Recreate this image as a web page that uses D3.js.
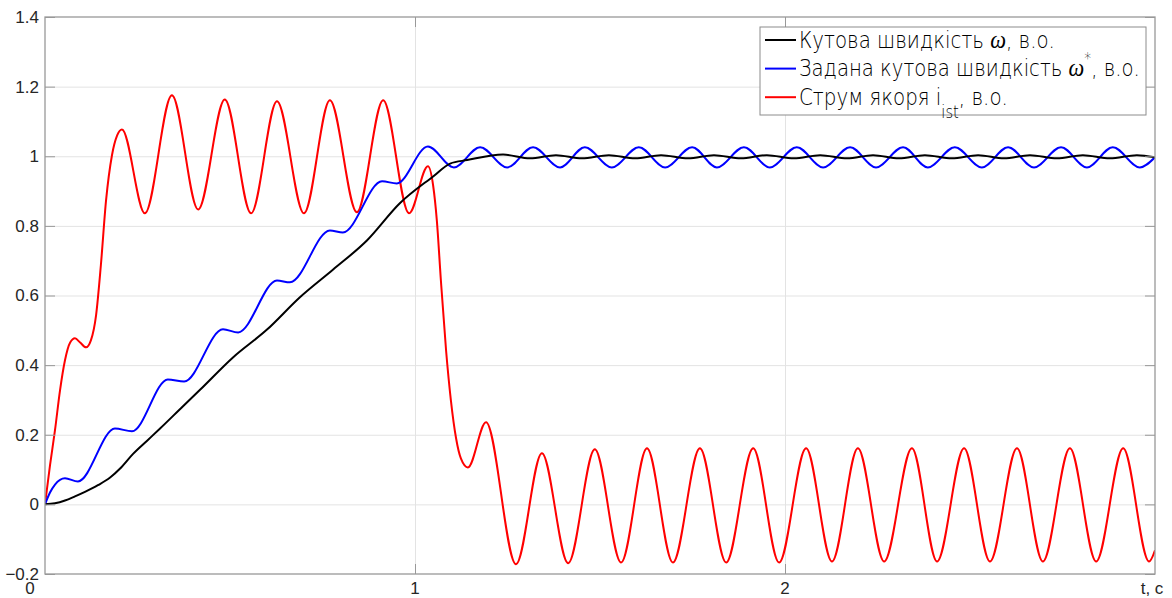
<!DOCTYPE html>
<html>
<head>
<meta charset="utf-8">
<script src="https://cdn.jsdelivr.net/npm/d3@7"></script>
<style>
  body { margin: 0; background: #fff; }
  svg { display: block; }
</style>
</head>
<body>
<svg id="chart" width="1172" height="598"></svg>
<script>
// speed, reference speed and armature current, [t, value]
const speed = [[0,0],[0.027,0.003],[0.054,0.011],[0.081,0.023],[0.108,0.036],[0.143,0.055],[0.176,0.077],
  [0.203,0.103],[0.238,0.145],[0.276,0.183],[0.311,0.218],[0.373,0.282],[0.419,0.329],[0.508,0.422],
  [0.600,0.502],[0.689,0.595],[0.778,0.674],[0.870,0.758],[0.959,0.865],[1.049,0.942],[1.095,0.979],
  [1.141,0.989],[1.238,1.005],[1.311,0.994],[1.381,1.003],[1.451,0.994],[1.524,1.003],[1.595,0.994],
  [1.665,1.003],[1.738,0.994],[1.808,1.003],[1.881,0.994],[1.951,1.003],[2.024,0.994],[2.095,1.003],
  [2.168,0.994],[2.238,1.003],[2.308,0.994],[2.378,1.003],[2.451,0.994],[2.522,1.003],[2.592,0.994],
  [2.662,1.003],[2.735,0.994],[2.805,1.003],[2.878,0.994],[2.951,1.003],[3.0,0.997]];

const speedRef = [[0,0],[0.0135,0.034],[0.027,0.057],[0.054,0.075],[0.089,0.066],[0.189,0.218],[0.235,0.210],
  [0.332,0.359],[0.376,0.353],[0.481,0.503],[0.522,0.494],[0.627,0.643],[0.662,0.638],[0.770,0.787],
  [0.805,0.781],[0.911,0.928],[0.951,0.922],[1.035,1.028],[1.105,0.968],[1.176,1.026],[1.249,0.968],
  [1.319,1.026],[1.392,0.968],[1.459,1.026],[1.532,0.968],[1.605,1.026],[1.676,0.968],[1.749,1.026],
  [1.816,0.968],[1.889,1.026],[1.959,0.968],[2.032,1.026],[2.103,0.968],[2.176,1.026],[2.246,0.968],
  [2.319,1.026],[2.386,0.968],[2.459,1.026],[2.532,0.968],[2.603,1.026],[2.673,0.968],[2.746,1.026],
  [2.816,0.968],[2.886,1.026],[2.959,0.968],[3.0,0.997]];

const current = [[0,0],[0.0135,0.112],[0.027,0.213],[0.0405,0.327],[0.054,0.414],[0.068,0.465],[0.081,0.477],
  [0.095,0.465],[0.111,0.451],[0.124,0.471],[0.138,0.543],[0.151,0.687],[0.165,0.873],[0.181,1.003],
  [0.195,1.060],[0.208,1.077],[0.270,0.836],[0.343,1.175],[0.414,0.847],[0.486,1.163],[0.557,0.836],
  [0.627,1.158],[0.700,0.836],[0.770,1.161],[0.843,0.839],[0.914,1.161],[0.984,0.836],[1.035,0.971],
  [1.049,0.916],[1.059,0.816],[1.070,0.643],[1.084,0.442],[1.097,0.299],[1.111,0.190],[1.124,0.132],
  [1.143,0.106],[1.192,0.236],[1.273,-0.172],[1.343,0.147],[1.414,-0.169],[1.486,0.158],[1.557,-0.167],
  [1.627,0.161],[1.697,-0.167],[1.770,0.161],[1.841,-0.167],[1.914,0.161],[1.984,-0.167],[2.057,0.161],
  [2.127,-0.164],[2.197,0.161],[2.268,-0.164],[2.343,0.161],[2.411,-0.164],[2.484,0.161],[2.554,-0.164],
  [2.627,0.161],[2.697,-0.164],[2.770,0.161],[2.841,-0.164],[2.914,0.161],[2.984,-0.164],[3.0,-0.132]];

const yTicks = [-0.2, 0, 0.2, 0.4, 0.6, 0.8, 1, 1.2, 1.4];
const xTicks = [1, 2];
const xTickLabels = [[0, "0"], [1, "1"], [2, "2"], [3, "t, c"]];

const svg = d3.select("#chart");
const plotL = 45, plotR = 1155, plotT = 17, plotB = 574;

const x = d3.scaleLinear().domain([0, 3]).range([plotL, plotR]);
const y = d3.scaleLinear().domain([-0.2, 1.4]).range([plotB, plotT]);

// grid
svg.append("g")
  .attr("transform", `translate(0,${plotB})`)
  .call(d3.axisBottom(x).tickValues(xTicks).tickSize(-(plotB - plotT)).tickFormat(""))
  .call(g => g.select(".domain").remove())
  .selectAll("line").attr("stroke", "#e3e3e3");
svg.append("g")
  .attr("transform", `translate(${plotL},0)`)
  .call(d3.axisLeft(y).tickValues(yTicks.slice(1, -1)).tickSize(-(plotR - plotL)).tickFormat(""))
  .call(g => g.select(".domain").remove())
  .selectAll("line").attr("stroke", "#e3e3e3");

// curves
svg.append("clipPath").attr("id", "clip")
  .append("rect").attr("x", plotL).attr("y", plotT).attr("width", plotR - plotL).attr("height", plotB - plotT);

const line = d3.line()
  .x(d => x(d[0]))
  .y(d => y(d[1]))
  .curve(d3.curveMonotoneX);

const series = [
  { data: current, color: "#ff0000" },
  { data: speedRef, color: "#0000ff" },
  { data: speed, color: "#000000" }
];

svg.append("g").attr("clip-path", "url(#clip)")
  .selectAll("path").data(series).join("path")
  .attr("d", d => line(d.data))
  .attr("fill", "none")
  .attr("stroke", d => d.color)
  .attr("stroke-width", 2)
  .attr("stroke-linejoin", "round");

// axes, ticks pointing inward on all sides
const axisColor = "#999";
svg.append("g")
  .attr("transform", `translate(${plotL},0)`)
  .call(d3.axisLeft(y).tickValues(yTicks).tickSize(-10).tickSizeOuter(0).tickPadding(6)
    .tickFormat(d => d3.format("~g")(d)))
  .call(g => g.select(".domain").remove())
  .call(g => g.selectAll("line").attr("stroke", axisColor))
  .call(g => g.selectAll("text").attr("fill", "#262626")
    .style("font", "17px 'Liberation Sans', Arial, sans-serif"));

svg.append("g")
  .attr("transform", `translate(${plotR},0)`)
  .call(d3.axisRight(y).tickValues(yTicks).tickSize(-10).tickSizeOuter(0).tickFormat(""))
  .call(g => g.select(".domain").remove())
  .selectAll("line").attr("stroke", axisColor);

svg.append("g")
  .attr("transform", `translate(0,${plotB})`)
  .call(d3.axisBottom(x).tickValues(xTicks).tickSize(-10).tickSizeOuter(0).tickFormat(""))
  .call(g => g.select(".domain").remove())
  .selectAll("line").attr("stroke", axisColor);

svg.append("g")
  .attr("transform", `translate(0,${plotT})`)
  .call(d3.axisTop(x).tickValues(xTicks).tickSize(-10).tickSizeOuter(0).tickFormat(""))
  .call(g => g.select(".domain").remove())
  .selectAll("line").attr("stroke", axisColor);

svg.append("rect")
  .attr("x", plotL).attr("y", plotT)
  .attr("width", plotR - plotL).attr("height", plotB - plotT)
  .attr("fill", "none").attr("stroke", axisColor).attr("stroke-width", 1.3);

svg.append("g").selectAll("text").data(xTickLabels).join("text")
  .attr("x", d => d[0] === 0 ? x(0) - 15 : x(d[0]) - (d[0] === 3 ? 3 : 0))
  .attr("y", 594)
  .attr("text-anchor", "middle")
  .attr("fill", "#262626")
  .style("font", "17px 'Liberation Sans', Arial, sans-serif")
  .text(d => d[1]);

// legend
const legendParts = [
  [["Кутова швидкість ", ""], ["ω", "it"], [", в.о.", ""]],
  [["Задана кутова швидкість ", ""], ["ω", "it"], ["*", "sup"], [", в.о.", ""]],
  [["Струм якоря i", ""], ["ist", "sub"], [", в.о.", ""]]
];
const legendColors = ["#000000", "#0000ff", "#ff0000"];
const legendWidths = [256, 341, 209];

const lg = svg.append("g");
lg.append("rect")
  .attr("x", 760).attr("y", 27).attr("width", 386).attr("height", 88)
  .attr("fill", "#fff").attr("stroke", "#8c8c8c").attr("stroke-width", 1);

legendParts.forEach((parts, i) => {
  const ly = 40 + i * 28.6;
  lg.append("line")
    .attr("x1", 765).attr("x2", 796).attr("y1", ly).attr("y2", ly)
    .attr("stroke", legendColors[i]).attr("stroke-width", 2);
  const t = lg.append("text")
    .attr("fill", "#000")
    .style("font", "200 23px 'DejaVu Sans', sans-serif");
  parts.forEach(([s, kind], j) => {
    const ts = t.append("tspan").text(s);
    const prev = j > 0 ? parts[j - 1][1] : "";
    if (kind === "it") ts.style("font", "italic 26px 'Liberation Serif', serif");
    if (kind === "sup") ts.attr("dy", -12).style("font-size", "16px");
    if (kind === "sub") ts.attr("dy", 13).style("font-size", "17px");
    if (kind === "" && prev === "sup") ts.attr("dy", 12);
    if (kind === "" && prev === "sub") ts.attr("dy", -13);
  });
  // squeeze to the narrow width of the original lettering
  const w = t.node().getComputedTextLength();
  t.attr("transform", `translate(799,${ly + 7.5}) scale(${legendWidths[i] / w},1)`);
});
</script>
</body>
</html>
